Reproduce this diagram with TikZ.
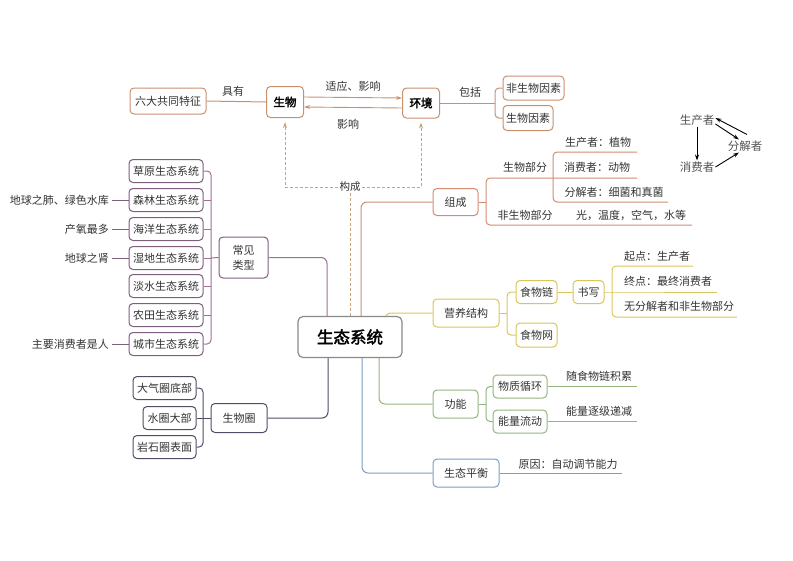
\documentclass[tikz,border=0pt]{standalone}
\usepackage{fontspec}
\setmainfont{Noto Sans CJK SC}
\newfontfamily\boldcjk{Noto Sans CJK SC}[FakeBold=2.5]
\usetikzlibrary{backgrounds,arrows.meta}
\definecolor{topc}{HTML}{C9906E}
\definecolor{dashc}{HTML}{C8A27A}
\definecolor{purc}{HTML}{A06E96}
\definecolor{purb}{HTML}{7E5E7E}
\definecolor{darkc}{HTML}{4E4E66}
\definecolor{orc}{HTML}{D28C72}
\definecolor{yelc}{HTML}{D9C65A}
\definecolor{grc}{HTML}{94B47E}
\definecolor{bluc}{HTML}{7C9CC4}
\definecolor{txt}{HTML}{333333}
\definecolor{rootc}{HTML}{8A8A8A}
\tikzset{
  box/.style={draw, rounded corners=4pt, fill=white, line width=1pt, inner sep=0pt, text=txt, font=\fontsize{11}{13}\selectfont},
  lbl/.style={text=txt, font=\fontsize{11}{13}\selectfont, inner sep=1pt},
  serifl/.style={text=txt!85, font=\fontsize{11.5}{13}\selectfont, inner sep=1pt},
  conn/.style={line width=1pt, rounded corners=4pt},
  tip/.style={-{Stealth[length=6pt,width=4pt]}}
}
\begin{document}
\begin{tikzpicture}[x=1pt,y=-1pt]
\useasboundingbox (0,0) rectangle (793,560);

% ---------- top group ----------
\node[box, draw=topc, minimum width=76pt, minimum height=26pt] (n6) at (168,101) {六大共同特征};
\node[box, draw=topc, minimum width=37pt, minimum height=31pt, text=black, font=\boldcjk\fontsize{11.5}{13}\selectfont] (shengwu) at (285,102) {生物};
\node[box, draw=topc, minimum width=37pt, minimum height=30pt, text=black, font=\boldcjk\fontsize{11.5}{13}\selectfont] (huanjing) at (421,103) {环境};
\node[box, draw=topc, minimum width=61pt, minimum height=24pt] (fsw) at (533.5,88) {非生物因素};
\node[box, draw=topc, minimum width=50pt, minimum height=25pt] (swys) at (528,118) {生物因素};
\node[lbl] (juyou) at (233,91) {具有};
\node[lbl] (shiying) at (353,86) {适应、影响};
\node[lbl] (yingxiang) at (348,124) {影响};
\node[lbl] (baokuo) at (470,92) {包括};
\node[lbl, fill=white, font=\fontsize{10.5}{12}\selectfont] (gc) at (350,187) {构成};

% ---------- top right ----------
\node[serifl] (sc) at (697,120) {生产者};
\node[serifl] (fj) at (745,146) {分解者};
\node[serifl] (xf) at (697,167) {消费者};

% ---------- root ----------
\node[draw=rootc, fill=white, rounded corners=5pt, line width=1.2pt, minimum width=104pt, minimum height=41pt, inner sep=0pt, font=\boldcjk\fontsize{16.5}{18}\selectfont] (root) at (350,337) {生态系统};

% ---------- left purple ----------
\node[box, draw=purb, minimum width=49pt, minimum height=41pt, align=center, font=\fontsize{11}{15}\selectfont] (chang) at (243.5,257.5) {常见\\类型};
\foreach \n/\y/\t in {e1/171/草原生态系统, e2/200/森林生态系统, e3/229/海洋生态系统, e4/258/湿地生态系统, e5/286/淡水生态系统, e6/315/农田生态系统, e7/344/城市生态系统}
  \node[box, draw=purb, minimum width=74pt, minimum height=23pt] (\n) at (166,\y) {\t};
\node[lbl, anchor=east] (l2) at (110,200) {地球之肺、绿色水库};
\node[lbl, anchor=east] (l3) at (110,229) {产氧最多};
\node[lbl, anchor=east] (l4) at (110,258) {地球之肾};
\node[lbl, anchor=east] (l7) at (110,344) {主要消费者是人};

% ---------- lower dark ----------
\node[box, draw=darkc, minimum width=56pt, minimum height=29pt] (shq) at (239,418) {生物圈};
\node[box, draw=darkc, minimum width=63pt, minimum height=23pt] (dq) at (164.5,388) {大气圈底部};
\node[box, draw=darkc, minimum width=53pt, minimum height=23pt] (sq) at (169.5,418) {水圈大部};
\node[box, draw=darkc, minimum width=63pt, minimum height=23pt] (yq) at (164.5,447) {岩石圈表面};

% ---------- orange ----------
\node[box, draw=orc, minimum width=45pt, minimum height=27pt] (zc) at (455.5,202) {组成};
\node[lbl] (swbf) at (525,167) {生物部分};
\node[lbl] (scz) at (598,142) {生产者：植物};
\node[lbl] (xfz) at (597,167) {消费者：动物};
\node[lbl] (fjz) at (614,192) {分解者：细菌和真菌};
\node[lbl] (fswbf) at (525,215) {非生物部分};
\node[lbl] (guang) at (631,215) {光，温度，空气，水等};

% ---------- yellow ----------
\node[box, draw=yelc, minimum width=66pt, minimum height=28pt] (yy) at (466,313) {营养结构};
\node[box, draw=yelc, minimum width=41pt, minimum height=23pt] (sl) at (536.5,292) {食物链};
\node[box, draw=yelc, minimum width=41pt, minimum height=24pt] (sw2) at (536.5,335) {食物网};
\node[box, draw=yelc, minimum width=31pt, minimum height=23pt] (sx) at (588.5,292) {书写};
\node[lbl, anchor=west] (qd) at (623,256) {起点：生产者};
\node[lbl, anchor=west] (zd) at (623,281) {终点：最终消费者};
\node[lbl, anchor=west] (wf) at (623,306) {无分解者和非生物部分};

% ---------- green ----------
\node[box, draw=grc, minimum width=45pt, minimum height=28pt] (gn) at (455.5,404) {功能};
\node[box, draw=grc, minimum width=54pt, minimum height=23pt] (wz) at (520,386.5) {物质循环};
\node[box, draw=grc, minimum width=54pt, minimum height=23pt] (nl) at (520,421.5) {能量流动};
\node[lbl] (sui) at (599,376) {随食物链积累};
\node[lbl] (nlz) at (599,411) {能量逐级递减};

% ---------- blue ----------
\node[box, draw=bluc, minimum width=66pt, minimum height=28pt] (ph) at (466,473) {生态平衡};
\node[lbl] (yy2) at (568,464) {原因：自动调节能力};

% ---------- connectors ----------
\begin{scope}[on background layer]
  % top
  \draw[topc, line width=1pt] (n6.east) -- (shengwu.west);
  \draw[topc, line width=0.9pt, tip] ([yshift=5pt]shengwu.east) -- ([yshift=5pt]huanjing.west);
  \draw[topc, line width=0.9pt, tip] ([yshift=-5pt]huanjing.west) -- ([yshift=-5pt]shengwu.east);
  \coordinate (bk) at (495,103);
  \draw[topc, line width=1pt] (huanjing.east) -- (bk);
  \draw[topc, conn] (fsw.west) -| (bk) |- (swys.west);
  % dashed
  \draw[dashc, line width=1pt, dash pattern=on 3pt off 2pt] (root.north) -- (gc.south);
  \draw[dashc, line width=1pt, dash pattern=on 3pt off 2pt, tip] (gc.west) -| ([yshift=-4pt]shengwu.south);
  \draw[dashc, line width=1pt, dash pattern=on 3pt off 2pt, tip] (gc.east) -| ([yshift=-4pt]huanjing.south);
  % purple
  \coordinate (pb) at (211,258);
  \draw[purc, conn] (e1.east) -| (pb) |- (e7.east);
  \foreach \n in {e2,e3,e4,e5,e6} \draw[purc, line width=1pt] (\n.east) -- (\n.east -| pb);
  \draw[purc, line width=1pt] (pb) -- (chang.west);
  \draw[purc, conn, rounded corners=6pt] (chang.east) -| (327,337);
  \draw[purb, line width=1pt] (l2.east) ++(2pt,0) -- (e2.west);
  \draw[purb, line width=1pt] (l3.east) ++(2pt,0) -- (e3.west);
  \draw[purb, line width=1pt] (l4.east) ++(2pt,0) -- (e4.west);
  \draw[purb, line width=1pt] (l7.east) ++(2pt,0) -- (e7.west);
  % dark
  \coordinate (db) at (203,418);
  \draw[darkc, conn] (dq.east) -| (db) |- (yq.east);
  \draw[darkc, line width=1pt] (sq.east) -- (shq.west);
  \draw[darkc, conn, rounded corners=6pt] (shq.east) -| (328,337);
  % orange
  \draw[orc, conn, rounded corners=6pt] (361,337) |- (zc.west);
  \draw[orc, line width=1pt] (zc.east) -- (486,202);
  \draw[orc, conn] (637,178) -| (486,225) -- (692,225);
  \draw[orc, conn] (637,152) -| (553,202) -- (668,202);
  % yellow
  \draw[yelc, conn, rounded corners=6pt] (385,337) |- (yy.west);
  \coordinate (yb) at (507,313);
  \draw[yelc, line width=1pt] (yy.east) -- (yb);
  \draw[yelc, conn] (sl.west) -| (yb) |- (sw2.west);
  \draw[yelc, line width=1pt] (sl.east) -- (sx.west);
  \draw[yelc, line width=1pt] (sx.east) -- (612,292) -- (717,292);
  \draw[yelc, conn] (693,266) -| (612,317) -- (737,317);
  % green
  \draw[grc, conn, rounded corners=6pt] (379,337) |- (gn.west);
  \coordinate (gb) at (486,404);
  \draw[grc, line width=1pt] (gn.east) -- (gb);
  \draw[grc, conn] (wz.west) -| (gb) |- (nl.west);
  \draw[grc, line width=1pt] (wz.east) -- (637,386.5);
  \draw[grc, line width=1pt] (nl.east) -- (637,421.5);
  % blue
  \draw[bluc, conn, rounded corners=6pt] (362,337) |- (ph.west);
  \draw[bluc, line width=1pt] (ph.east) -- (622,473);
  % top right arrows
  \draw[black, line width=0.9pt, tip] (sc.south) -- (xf.north);
  \draw[black, line width=0.9pt, tip] ([yshift=-4pt]sc.east) -- ([xshift=-6pt]fj.north);
  \draw[black, line width=0.9pt, tip] ([shift={(2pt,5pt)}]fj.north) -- ([yshift=2pt]sc.east);
  \draw[black, line width=0.9pt, tip] (xf.east) -- ([xshift=-6pt]fj.south);
\end{scope}
\end{tikzpicture}
\end{document}
